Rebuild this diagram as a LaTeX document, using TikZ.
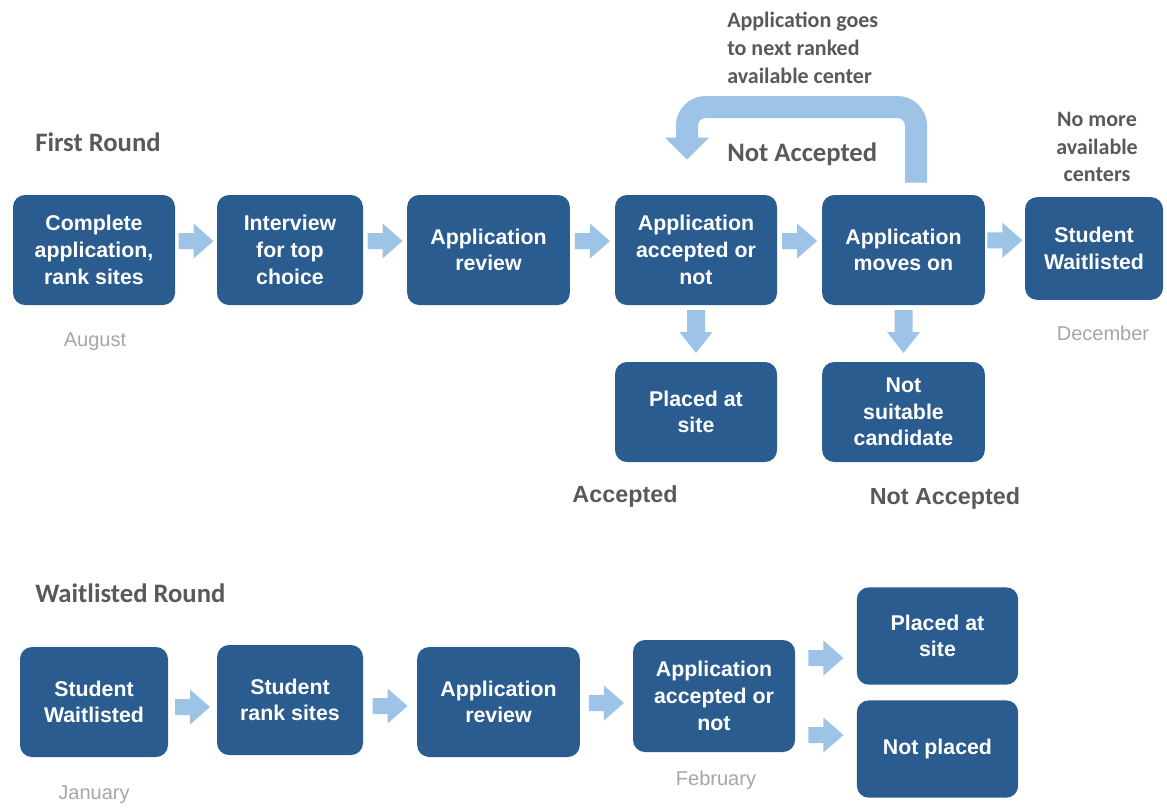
\documentclass[tikz,border=0pt]{standalone}
\usepackage{fontspec}
\setmainfont{Liberation Sans}
\newfontfamily\calfont{Carlito}
\usetikzlibrary{calc}
\definecolor{boxc}{HTML}{2B5C8F}
\definecolor{arrc}{HTML}{9DC3E6}
\definecolor{lblc}{HTML}{595959}
\definecolor{monc}{HTML}{A6A6A6}
\newcommand\rarr[1]{\fill[arrc] (#1) ++(-17.5,-8) -- ++(15,0) -- ++(0,-9.5) -- ++(20,17.5) -- ++(-20,17.5) -- ++(0,-9.5) -- ++(-15,0) -- cycle;}
\newcommand\darr[1]{\fill[arrc] (#1) ++(-9,-21.5) -- ++(18,0) -- ++(0,22) -- ++(7.5,0) -- ++(-16.5,21) -- ++(-16.5,-21) -- ++(7.5,0) -- cycle;}
\begin{document}
\begin{tikzpicture}[x=0.75pt,y=-0.75pt,
  box/.style={fill=boxc, rounded corners=9pt, text=white, align=center, inner sep=0pt,
    font=\bfseries\fontsize{16}{20}\selectfont},
  hdr/.style={text=lblc, anchor=west, inner sep=0pt, font=\calfont\bfseries\fontsize{20}{24}\selectfont},
  note/.style={text=lblc, inner sep=0pt, font=\calfont\bfseries\fontsize{16.5}{21}\selectfont},
  res/.style={text=lblc, inner sep=0pt, font=\bfseries\fontsize{17.5}{21}\selectfont},
  mon/.style={text=monc, inner sep=0pt, font=\fontsize{15}{18}\selectfont}]
\useasboundingbox (0,0) rectangle (1167,808);
% First round boxes
\node[box, minimum width=121.5pt, minimum height=82.5pt] (b1) at (94,250) {Complete\\application,\\rank sites};
\node[box, minimum width=109.5pt, minimum height=82.5pt] (b2) at (290,250) {Interview\\for top\\choice};
\node[box, minimum width=122pt, minimum height=82.5pt] (b3) at (488.5,250) {Application\\review};
\node[box, minimum width=121.5pt, minimum height=82.5pt] (b4) at (696,250) {Application\\accepted or\\not};
\node[box, minimum width=122pt, minimum height=82.5pt] (b5) at (903.5,250) {Application\\moves on};
\node[box, minimum width=103.5pt, minimum height=77pt] (b6) at (1094,248.5) {Student\\Waitlisted};
\node[box, minimum width=121.5pt, minimum height=75pt] (b7) at (696,412) {Placed at\\site};
\node[box, minimum width=122pt, minimum height=75pt] (b8) at (903.5,412) {Not\\suitable\\candidate};
% Waitlisted round boxes
\node[box, minimum width=111pt, minimum height=82.5pt] (c1) at (94,702) {Student\\Waitlisted};
\node[box, minimum width=109.5pt, minimum height=82.5pt] (c2) at (290,700) {Student\\rank sites};
\node[box, minimum width=122pt, minimum height=82.5pt] (c3) at (498.5,702) {Application\\review};
\node[box, minimum width=121.5pt, minimum height=84pt] (c4) at (714,696) {Application\\accepted or\\not};
\node[box, minimum width=121pt, minimum height=73pt] (c5) at (937.5,636) {Placed at\\site};
\node[box, minimum width=121pt, minimum height=73pt] (c6) at (937.5,749) {Not placed};
% arrows row 1
\rarr{$(b1.east)!0.5!(b2.west)+(0,-9)$}
\rarr{$(b2.east)!0.5!(b3.west)+(0,-9)$}
\rarr{$(b3.east)!0.5!(b4.west)+(0,-9)$}
\rarr{$(b4.east)!0.5!(b5.west)+(0,-9)$}
\rarr{$(b5.east)!0.5!(b6.west)+(0,-9)$}
\darr{$(b4.south)!0.5!(b7.north)+(0,-2)$}
\darr{$(b5.south)!0.5!(b8.north)+(0,-2)$}
% arrows row 2
\coordinate (m1) at ($(c1.east)!0.5!(c2.west)$);
\coordinate (m2) at ($(c2.east)!0.5!(c3.west)$);
\coordinate (m3) at ($(c3.east)!0.5!(c4.west)$);
\coordinate (m4) at ($(c4.east)!0.5!(c5.west)$);
\rarr{m1 |- 0,707}
\rarr{m2 |- 0,706}
\rarr{m3 |- 0,703}
\rarr{m4 |- 0,658}
\rarr{m4 |- 0,735}
% loop arrow
\coordinate (cs) at ($(b5.north)+(12.5,-12)$);
\coordinate (ct) at ($(b4.north)+(-9,-35)$);
\draw[arrc, line width=16.5pt, rounded corners=14pt] (cs) -- (cs |- 0,107) -- (ct |- 0,107) -- ($(ct)+(0,-21)$);
\fill[arrc] (ct) -- ++(-22,-22) -- ++(44,0) -- cycle;
% labels
\node[hdr] (h1) at (35,142) {First Round};
\node[hdr] (h2) at (35,593) {Waitlisted Round};
\node[note, anchor=west, align=left] (n1) at (727,48) {Application goes\\to next ranked\\available center};
\node[hdr] (n2) at (727,154) {Not Accepted};
\node[note, align=center, font=\calfont\bfseries\fontsize{16.5}{20.5}\selectfont] (n3) at (1097,147) {No more\\available\\centers};
\node[res] (r1) at (625,496) {Accepted};
\node[res] (r2) at (945,498) {Not Accepted};
\node[mon] (t1) at (95,342) {August};
\node[mon] (t2) at (1103,333) {December};
\node[mon] (t3) at (94,795) {January};
\node[mon] (t4) at (716,780) {February};
\end{tikzpicture}
\end{document}
